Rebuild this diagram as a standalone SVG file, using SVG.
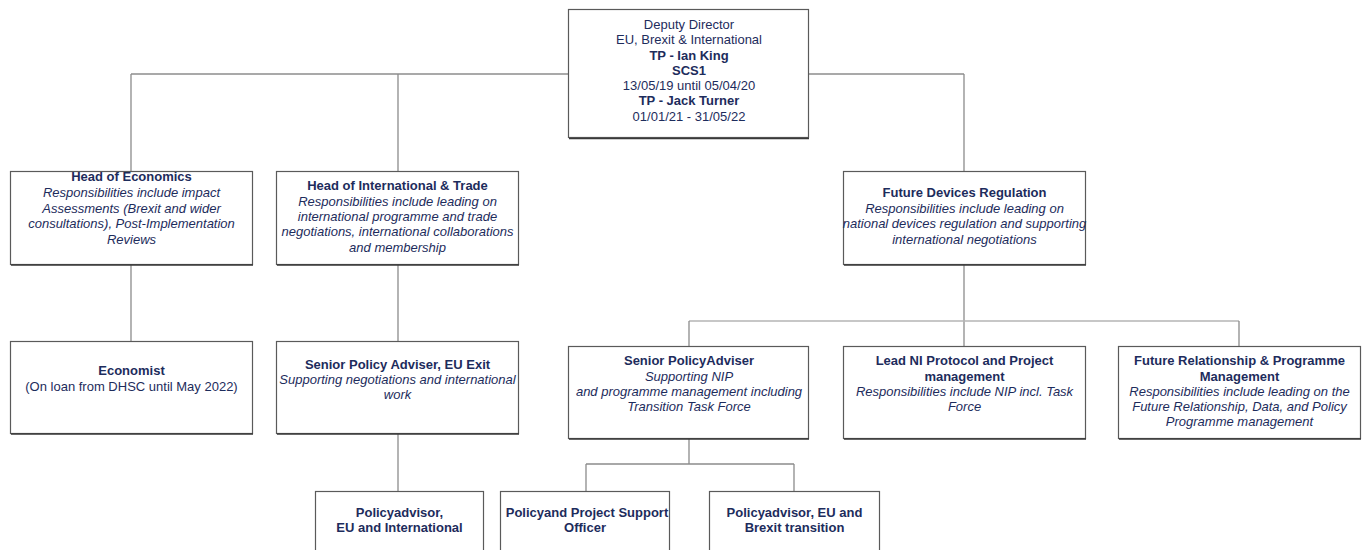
<svg xmlns="http://www.w3.org/2000/svg" width="1372" height="550" viewBox="0 0 1372 550">
  <style>
    .bg { fill: #ffffff; }
    .box { fill: #ffffff; stroke: #5a5a5a; stroke-width: 1.2; }
    .shade { stroke: #3a3a3a; stroke-width: 1.6; fill: none; }
    .wire { stroke: #8c8c8c; stroke-width: 1.3; fill: none; }
    .wire-light { stroke: #b4b4b4; stroke-width: 1.4; fill: none; }
    text { font-family: "Liberation Sans", Arial, sans-serif; font-size: 13px; fill: #1d2c5c; text-anchor: middle; dominant-baseline: central; }
    .b { font-weight: bold; }
    .i { font-style: italic; }
  </style>
  <rect class="bg" x="0" y="0" width="1372" height="550"/>

  <!-- connectors -->
  <g id="connectors">
    <path class="wire" d="M131 74 H964"/>
    <path class="wire" d="M131 74 V171 M398 74 V171 M964 74 V171"/>
    <path class="wire" d="M131 265 V341 M398 265 V341"/>
    <path class="wire" d="M964 265 V346"/>
    <path class="wire-light" d="M689 321 H1239"/>
    <path class="wire" d="M689 321 V346 M1239 321 V346"/>
    <path class="wire" d="M398 434 V491"/>
    <path class="wire" d="M689 439 V464 M586 464 H794 M586 464 V491 M794 464 V491"/>
  </g>

  <!-- Deputy Director -->
  <g id="deputy-director">
    <rect class="box" x="568.5" y="9.5" width="240" height="128"/>
    <path class="shade" d="M569 138.5 H809"/>
    <text x="689" y="24.5">Deputy Director</text>
    <text x="689" y="39.8">EU, Brexit &amp; International</text>
    <text x="689" y="55" class="b">TP - Ian King</text>
    <text x="689" y="70.2" class="b">SCS1</text>
    <text x="689" y="85.5">13/05/19 until 05/04/20</text>
    <text x="689" y="100.8" class="b">TP - Jack Turner</text>
    <text x="689" y="116">01/01/21  - 31/05/22</text>
  </g>

  <!-- Head of Economics -->
  <g id="head-economics">
    <rect class="box" x="10.5" y="171.5" width="242" height="93"/>
    <path class="shade" d="M11 265 H253"/>
    <text x="131.5" y="176.5" class="b">Head of Economics</text>
    <text x="131.5" y="192.3" class="i">Responsibilities include impact</text>
    <text x="131.5" y="208.3" class="i">Assessments (Brexit and wider</text>
    <text x="131.5" y="223.9" class="i">consultations), Post-Implementation</text>
    <text x="131.5" y="239.6" class="i">Reviews</text>
  </g>

  <!-- Head of International & Trade -->
  <g id="head-international-trade">
    <rect class="box" x="276.5" y="171.5" width="242" height="93"/>
    <path class="shade" d="M277 265 H519"/>
    <text x="397.5" y="185.3" class="b">Head of International &amp; Trade</text>
    <text x="397.5" y="201" class="i">Responsibilities include leading on</text>
    <text x="397.5" y="216.5" class="i">international programme and trade</text>
    <text x="397.5" y="231.8" class="i">negotiations, international collaborations</text>
    <text x="397.5" y="247.4" class="i">and membership</text>
  </g>

  <!-- Future Devices Regulation -->
  <g id="future-devices-regulation">
    <rect class="box" x="843.5" y="171.5" width="242" height="93"/>
    <path class="shade" d="M844 265 H1086"/>
    <text x="964.5" y="192.3" class="b">Future Devices Regulation</text>
    <text x="964.5" y="208.3" class="i">Responsibilities include leading on</text>
    <text x="964.5" y="223.9" class="i">national devices regulation and supporting</text>
    <text x="964.5" y="239.6" class="i">international negotiations</text>
  </g>

  <!-- Economist -->
  <g id="economist">
    <rect class="box" x="10.5" y="341.5" width="242" height="92"/>
    <path class="shade" d="M11 434 H253"/>
    <text x="131.5" y="370" class="b">Economist</text>
    <text x="131.5" y="386">(On loan from DHSC until May 2022)</text>
  </g>

  <!-- Senior Policy Adviser, EU Exit -->
  <g id="spa-eu-exit">
    <rect class="box" x="276.5" y="341.5" width="242" height="92"/>
    <path class="shade" d="M277 434 H519"/>
    <text x="397.5" y="364" class="b">Senior Policy Adviser, EU Exit</text>
    <text x="397.5" y="379.6" class="i">Supporting negotiations and international</text>
    <text x="397.5" y="394.7" class="i">work</text>
  </g>

  <!-- Senior Policy Adviser, NIP -->
  <g id="spa-nip">
    <rect class="box" x="568.5" y="346.5" width="240" height="92"/>
    <path class="shade" d="M569 439 H809"/>
    <text x="689" y="360.4" class="b">Senior PolicyAdviser</text>
    <text x="689" y="376" class="i">Supporting NIP</text>
    <text x="689" y="391" class="i">and programme management including</text>
    <text x="689" y="406.2" class="i">Transition Task Force</text>
  </g>

  <!-- Lead NI Protocol -->
  <g id="lead-ni-protocol">
    <rect class="box" x="843.5" y="346.5" width="242" height="92"/>
    <path class="shade" d="M844 439 H1086"/>
    <text x="964.5" y="360.4" class="b">Lead NI Protocol and Project</text>
    <text x="964.5" y="376" class="b">management</text>
    <text x="964.5" y="391" class="i">Responsibilities include NIP incl. Task</text>
    <text x="964.5" y="406.2" class="i">Force</text>
  </g>

  <!-- Future Relationship & Programme Management -->
  <g id="future-relationship">
    <rect class="box" x="1118.5" y="346.5" width="242" height="92"/>
    <path class="shade" d="M1119 439 H1361"/>
    <text x="1239.5" y="360.4" class="b">Future Relationship &amp; Programme</text>
    <text x="1239.5" y="376" class="b">Management</text>
    <text x="1239.5" y="391" class="i">Responsibilities include leading on the</text>
    <text x="1239.5" y="406.2" class="i">Future Relationship, Data, and Policy</text>
    <text x="1239.5" y="421.8" class="i">Programme management</text>
  </g>

  <!-- Policy advisor, EU and International -->
  <g id="policy-advisor-eu-intl">
    <rect class="box" x="315.5" y="491.5" width="168" height="70"/>
    <text x="399.5" y="512" class="b">Policyadvisor,</text>
    <text x="399.5" y="527.4" class="b">EU and International</text>
  </g>

  <!-- Policy and Project Support Officer -->
  <g id="policy-project-support">
    <rect class="box" x="500.5" y="491.5" width="169" height="70"/>
    <text x="587" y="512" class="b">Policyand Project Support</text>
    <text x="585" y="527.4" class="b">Officer</text>
  </g>

  <!-- Policy advisor, EU and Brexit transition -->
  <g id="policy-advisor-brexit">
    <rect class="box" x="709.5" y="491.5" width="170" height="70"/>
    <text x="794.5" y="512" class="b">Policyadvisor, EU and</text>
    <text x="794.5" y="527.4" class="b">Brexit transition</text>
  </g>
</svg>
